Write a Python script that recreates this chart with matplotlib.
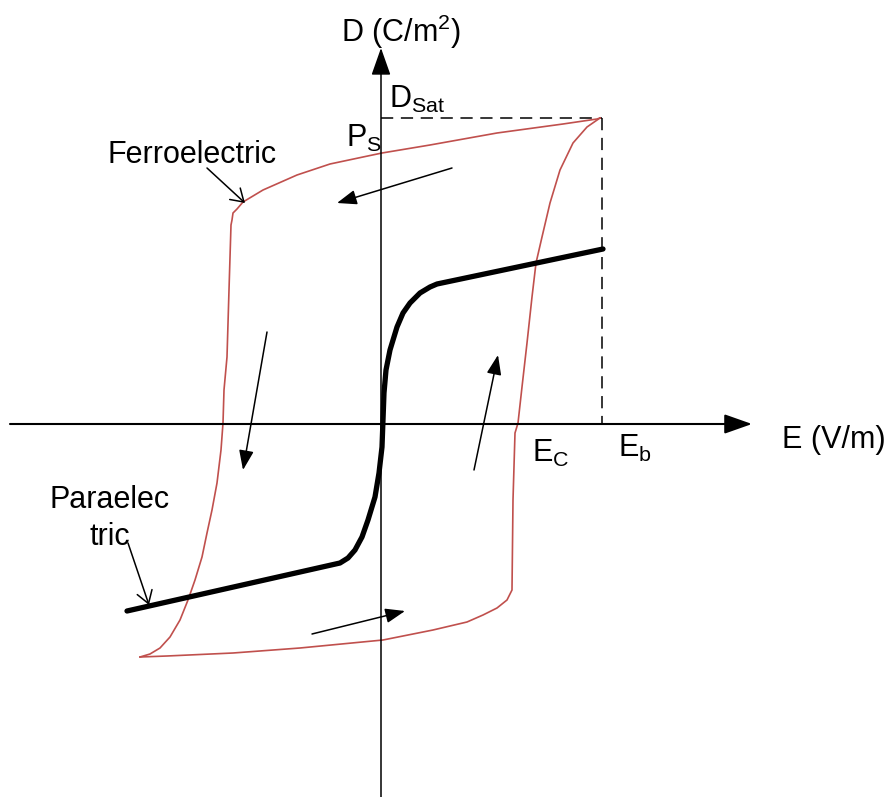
import matplotlib.pyplot as plt

plt.rcParams['font.family'] = ['Liberation Sans', 'DejaVu Sans']
plt.rcParams['mathtext.fontset'] = 'custom'
plt.rcParams['mathtext.rm'] = 'Liberation Sans'
plt.rcParams['mathtext.it'] = 'Liberation Sans:italic'
plt.rcParams['mathtext.default'] = 'regular'

# hysteresis loop, upper branch (field going down from E_b)
E_down = [219, 216, 182, 116, 49, 1, -18, -51, -84, -118, -138, -144, -148, -149,
          -150, -152, -154, -157, -158, -160, -164, -169, -174, -179, -186, -193,
          -201, -211, -221, -231, -241]
D_down = [306, 305, 300, 291, 279, 271, 267, 260, 249, 234, 222, 215, 211, 204,
          199, 134, 67, 34, 1, -26, -59, -86, -109, -133, -156, -176,
          -196, -213, -224, -230, -233]

# lower branch (field going back up)
E_up = [-241, -214, -148, -81, 2, 52, 86, 102, 116, 126, 131, 132, 134, 137, 141,
        146, 151, 155, 161, 169, 179, 192, 206, 219]
D_up = [-233, -232, -229, -224, -216, -206, -198, -191, -184, -176, -166, -76, -9, 1, 37,
        81, 127, 161, 187, 221, 254, 281, 297, 306]

# paraelectric response
E_para = [-254, -41, -33, -26, -19, -13, -6, -2, 1, 2, 3, 5, 9, 16, 22, 29, 39, 49, 56, 222]
D_para = [-187, -139, -134, -126, -113, -96, -73, -49, -23, 4, 31, 54, 74, 97, 111, 121,
          131, 137, 140, 175]

E_b = 221
D_sat = 306

red = '#C0504D'

fig = plt.figure(figsize=(8.88, 7.97), dpi=100)
ax = fig.add_axes([0, 0, 1, 1])
ax.set_xlim(-381, 507)
ax.set_ylim(-373, 424)
ax.axis('off')

# axes with big arrow heads
big = dict(arrowstyle='-|>,head_length=0.85,head_width=0.3', color='black',
           lw=1.5, mutation_scale=20, shrinkA=0, shrinkB=0)
ax.annotate('', xy=(371, 0), xytext=(-371, 0), arrowprops=big)
big_v = dict(big, lw=1.1)
ax.annotate('', xy=(0, 376), xytext=(0, -373), arrowprops=big_v)

# saturation guide lines
ax.plot([0, E_b], [D_sat, D_sat], color='black', lw=1.1, dashes=(8, 5))
ax.plot([E_b, E_b], [D_sat, 0], color='black', lw=1.1, dashes=(8, 5))

ax.plot(E_down, D_down, color=red, lw=1.2, solid_joinstyle='round')
ax.plot(E_up, D_up, color=red, lw=1.2, solid_joinstyle='round')
ax.plot(E_para, D_para, color='black', lw=3.8, solid_capstyle='round',
        solid_joinstyle='round')

# direction of travel round the loop
small = dict(arrowstyle='-|>,head_length=0.8,head_width=0.3', color='black',
             lw=1.1, mutation_scale=15, shrinkA=0, shrinkB=0)
ax.annotate('', xy=(-44, 221), xytext=(71, 256), arrowprops=small)
ax.annotate('', xy=(-138, -46), xytext=(-114, 92), arrowprops=small)
ax.annotate('', xy=(24, -187), xytext=(-69, -210), arrowprops=small)
ax.annotate('', xy=(117, 69), xytext=(93, -46), arrowprops=small)

# label pointers
thin = dict(arrowstyle='->,head_length=0.55,head_width=0.35', color='black',
            lw=1.1, mutation_scale=16, shrinkA=0, shrinkB=0)
ax.annotate('', xy=(-136, 221), xytext=(-174, 256), arrowprops=thin)
ax.annotate('', xy=(-232, -181), xytext=(-253, -119), arrowprops=thin)

fs = 22
ax.text(-40, 382, 'D (C/m$^2$)', fontsize=fs, va='baseline')
ax.text(8, 316, r'D$_{Sat}$', fontsize=fs, va='baseline')
ax.text(-35, 277, r'P$_{S}$', fontsize=fs, va='baseline')
ax.text(-273, 261, 'Ferroelectric', fontsize=fs, va='baseline')
ax.text(401, -24, 'E (V/m)', fontsize=fs, va='baseline')
ax.text(151, -38, r'E$_{C}$', fontsize=fs, va='baseline')
ax.text(237, -33, r'E$_{b}$', fontsize=fs, va='baseline')
ax.text(-271, -84, 'Paraelec', fontsize=fs, va='baseline', ha='center')
ax.text(-271, -121, 'tric', fontsize=fs, va='baseline', ha='center')

fig.savefig('out.png', dpi=100)
